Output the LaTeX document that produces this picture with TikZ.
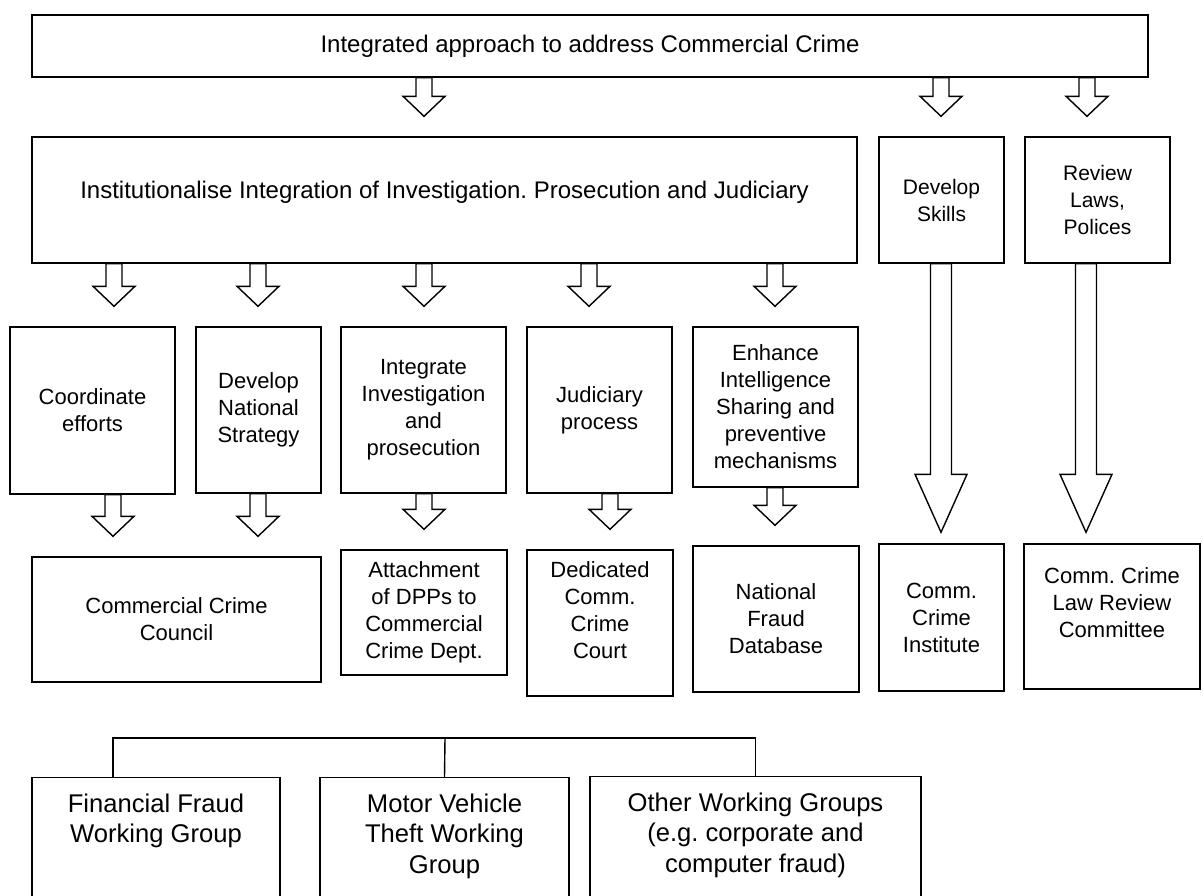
\documentclass[tikz,border=0pt]{standalone}
\usepackage{fontspec}
\setmainfont{Liberation Sans}
\usetikzlibrary{calc}
\frenchspacing

\tikzset{
  box/.style={draw, line width=0.7pt, align=center, inner sep=0pt, font=\fontsize{11}{13.5}\selectfont},
  bigbox/.style={box, font=\fontsize{12}{14.5}\selectfont},
  sidebox/.style={box, font=\fontsize{10.5}{13.5}\selectfont},
  wgbox/.style={box, anchor=north, inner ysep=8pt, text depth=40pt, font=\fontsize{12.8}{15.25}\selectfont},
  blockarrow/.style={draw, line width=0.7pt, fill=white, line join=miter}
}

% x (px), from, to, shaft half, head half, head length, gap
\newcommand{\hollowarrow}[7]{%
  \path[blockarrow] let \p1=(#2.south), \p2=(#3.north), \n1={#1*0.5} in
    ({\n1*1pt-#4},\y1) -- ({\n1*1pt-#4},{\y2+#7+#6}) -- ({\n1*1pt-#5},{\y2+#7+#6})
    -- ({\n1*1pt},{\y2+#7}) -- ({\n1*1pt+#5},{\y2+#7+#6}) -- ({\n1*1pt+#4},{\y2+#7+#6})
    -- ({\n1*1pt+#4},\y1) -- cycle;}
\newcommand{\smallarrow}[3]{\hollowarrow{#1}{#2}{#3}{4pt}{10.5pt}{10pt}{10pt}}
\newcommand{\longarrow}[3]{\hollowarrow{#1}{#2}{#3}{5.25pt}{13pt}{29pt}{5.5pt}}

\begin{document}
\begin{tikzpicture}[x=0.5pt,y=-0.5pt]
  \useasboundingbox (0,0) rectangle (1203,895);
  \clip (0,0) rectangle (1203,895);

  \node[bigbox, minimum width=558pt, minimum height=31pt] (top) at (590,46) {Integrated approach to address Commercial Crime};

  \node[bigbox, minimum width=412.5pt, minimum height=63pt, text depth=10.5pt] (inst) at (444.5,200) {Institutionalise Integration of Investigation. Prosecution and Judiciary};
  \node[sidebox, minimum width=62.5pt, minimum height=63pt] (skills) at (941.5,200) {Develop\\Skills};
  \node[sidebox, minimum width=72.5pt, minimum height=63pt] (review) at (1097.5,200) {Review\\Laws,\\Polices};

  \node[box, minimum width=82.5pt, minimum height=83.5pt] (coord) at (92.5,410.5) {Coordinate\\efforts};
  \node[box, minimum width=62.5pt, minimum height=83pt] (dns) at (258.5,410) {Develop\\National\\Strategy};
  \node[box, minimum width=82.5pt, minimum height=83pt] (integ) at (423.5,410) {Integrate\\Investigation\\and\\prosecution};
  \node[box, minimum width=72.5pt, minimum height=83pt] (jud) at (599.5,410) {Judiciary\\process};
  \node[box, minimum width=82.5pt, minimum height=80pt] (enh) at (775.5,407) {Enhance\\Intelligence\\Sharing and\\preventive\\mechanisms};

  \node[box, minimum width=144.5pt, minimum height=62.5pt] (council) at (176.5,619.5) {Commercial Crime\\Council};
  \node[box, minimum width=83pt, minimum height=62.5pt] (dpp) at (424,612.5) {Attachment\\of DPPs to\\Commercial\\Crime Dept.};
  \node[box, minimum width=73pt, minimum height=73pt, text depth=12.5pt] (court) at (600,623) {Dedicated\\Comm.\\Crime\\Court};
  \node[box, minimum width=83pt, minimum height=73pt] (fraud) at (776,619) {National\\Fraud\\Database};
  \node[box, minimum width=62.5pt, minimum height=73.5pt] (institute) at (941.5,617.5) {Comm.\\Crime\\Institute};
  \node[box, minimum width=88pt, minimum height=72.5pt, text depth=13.5pt] (lawrev) at (1112,616.5) {Comm. Crime\\Law Review\\Committee};

  \node[wgbox, minimum width=124pt] (wg1) at (156,777) {Financial Fraud\\Working Group};
  \node[wgbox, minimum width=124.5pt] (wg2) at (444.5,777) {Motor Vehicle\\Theft Working\\Group};
  \node[wgbox, minimum width=165.5pt] (wg3) at (755.5,776) {Other Working Groups\\(e.g. corporate and\\computer fraud)};

  \foreach \xa/\tgt in {424/inst, 941/skills, 1087/review} \smallarrow{\xa}{top}{\tgt};
  \foreach \xa/\tgt in {114/coord, 258/dns, 424/integ, 589/jud, 775/enh} \smallarrow{\xa}{inst}{\tgt};
  \foreach \xa/\src/\tgt in {113/coord/council, 258/dns/council, 424/integ/dpp, 610/jud/court, 775/enh/fraud} \smallarrow{\xa}{\src}{\tgt};
  \longarrow{941}{skills}{institute};
  \longarrow{1086}{review}{lawrev};

  \coordinate (bus) at (445,738);
  \draw[line width=0.7pt] ([xshift=-21.5pt]wg1.north) |- (bus) -| (wg3.north);
  \draw[line width=0.7pt] (wg2.north) -- (bus);
\end{tikzpicture}
\end{document}
